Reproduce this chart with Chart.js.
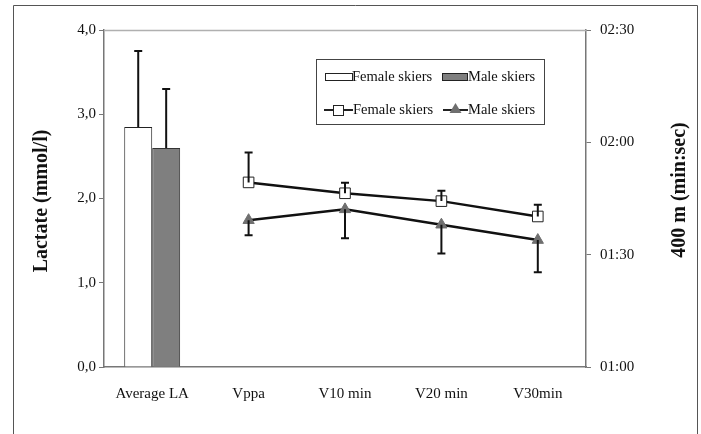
<!DOCTYPE html>
<html>
<head>
<meta charset="utf-8">
<script src="https://cdn.jsdelivr.net/npm/chart.js"></script>
<style>
  html, body { margin: 0; padding: 0; background: #fff; }
  #wrap { width: 701px; height: 434px; position: relative; }
</style>
</head>
<body>
<div id="wrap"><canvas id="chart" width="701" height="434"></canvas></div>
<script>
// ========== DATA ========== //
const categories = ['Average LA', 'Vppa', 'V10 min', 'V20 min', 'V30min'];

// bars: lactate (mmol/l), only on the first category
const femaleLactate = [2.85, null, null, null, null];
const femaleLactateSD = [0.90, null, null, null, null];
const maleLactate = [2.60, null, null, null, null];
const maleLactateSD = [0.70, null, null, null, null];

// lines: 400 m time in seconds
const femaleTime = [null, 109.3, 106.4, 104.3, 100.2];
const femaleTimeSD = [null, 8.0, 2.8, 2.8, 3.1];
const maleTime = [null, 99.2, 102.1, 98.0, 93.9];
const maleTimeSD = [null, 4.0, 7.7, 7.7, 8.6];

const lactateTicks = [0, 1, 2, 3, 4];
const timeTicks = [60, 90, 120, 150];

const FONT = "'Liberation Serif', 'Times New Roman', serif";

function mmss(sec) {
    const m = Math.floor(sec / 60);
    const s = Math.round(sec % 60);
    return String(m).padStart(2, '0') + ':' + String(s).padStart(2, '0');
}

// ========== ERROR BARS (through scales) ========== //
const errorBars = {
    id: 'errorBars',
    afterDatasetsDraw(chart) {
        const ctx = chart.ctx;
        chart.data.datasets.forEach((ds, i) => {
            if (!ds.errors) return;
            const meta = chart.getDatasetMeta(i);
            const scale = chart.scales[ds.yAxisID];
            ctx.save();
            ctx.strokeStyle = '#111';
            ctx.lineWidth = 2;
            meta.data.forEach((el, j) => {
                const v = ds.data[j];
                const e = ds.errors[j];
                if (v == null || e == null) return;
                const x = el.x;
                const y0 = scale.getPixelForValue(v);
                const y1 = scale.getPixelForValue(v + ds.errorDir * e);
                ctx.beginPath();
                ctx.moveTo(x, y0);
                ctx.lineTo(x, y1);
                ctx.moveTo(x - 4, y1);
                ctx.lineTo(x + 4, y1);
                ctx.stroke();
            });
            ctx.restore();
        });
    }
};

// ========== FRAME, TITLES, LEGEND ========== //
function verticalTitle(ctx, text, x, y) {
    ctx.save();
    ctx.fillStyle = '#111';
    ctx.font = 'bold 20px ' + FONT;
    ctx.textAlign = 'center';
    ctx.textBaseline = 'middle';
    ctx.translate(x, y);
    ctx.rotate(-Math.PI / 2);
    ctx.fillText(text, 0, 0);
    ctx.restore();
}

const decorations = {
    id: 'decorations',
    beforeDatasetsDraw(chart) {
        const ctx = chart.ctx;
        const a = chart.chartArea;
        ctx.save();
        ctx.strokeStyle = '#b0b0b0';
        ctx.lineWidth = 1.5;
        ctx.beginPath();
        ctx.moveTo(a.left, a.top + 0.5);
        ctx.lineTo(a.right, a.top + 0.5);
        ctx.stroke();
        ctx.restore();
    },
    afterDraw(chart) {
        const ctx = chart.ctx;
        ctx.save();
        // outer frame
        ctx.strokeStyle = '#555';
        ctx.lineWidth = 1;
        ctx.beginPath();
        ctx.moveTo(13.5, 440);
        ctx.lineTo(13.5, 5.5);
        ctx.lineTo(697.5, 5.5);
        ctx.lineTo(697.5, 440);
        ctx.stroke();
        ctx.restore();

        verticalTitle(ctx, 'Lactate (mmol/l)', 42, 201);
        verticalTitle(ctx, '400 m (min:sec)', 680, 190);

        // legend box
        ctx.save();
        ctx.fillStyle = '#fff';
        ctx.strokeStyle = '#444';
        ctx.lineWidth = 1;
        ctx.fillRect(316.5, 59.5, 228, 65);
        ctx.strokeRect(316.5, 59.5, 228, 65);
        ctx.font = '14.5px ' + FONT;
        ctx.textBaseline = 'middle';
        ctx.textAlign = 'left';

        // bar swatches
        ctx.fillStyle = '#fff';
        ctx.strokeStyle = '#222';
        ctx.fillRect(325.5, 73.5, 27, 7);
        ctx.strokeRect(325.5, 73.5, 27, 7);
        ctx.fillStyle = '#7f7f7f';
        ctx.fillRect(442.5, 73.5, 25, 7);
        ctx.strokeRect(442.5, 73.5, 25, 7);
        ctx.fillStyle = '#111';
        ctx.fillText('Female skiers', 352, 77);
        ctx.fillText('Male skiers', 468, 77);

        // line swatches
        ctx.lineWidth = 2;
        ctx.beginPath();
        ctx.moveTo(324, 110); ctx.lineTo(353, 110);
        ctx.moveTo(443, 110); ctx.lineTo(468, 110);
        ctx.stroke();
        ctx.fillStyle = '#fff';
        ctx.lineWidth = 1;
        ctx.fillRect(333.5, 105.5, 10, 10);
        ctx.strokeRect(333.5, 105.5, 10, 10);
        ctx.fillStyle = '#6f6f6f';
        ctx.beginPath();
        ctx.moveTo(455.5, 103);
        ctx.lineTo(461.5, 113);
        ctx.lineTo(449.5, 113);
        ctx.closePath();
        ctx.fill();
        ctx.fillStyle = '#111';
        ctx.fillText('Female skiers', 353, 110);
        ctx.fillText('Male skiers', 468, 110);
        ctx.restore();
    }
};

// ========== CHART ========== //
const ctx = document.getElementById('chart').getContext('2d');
new Chart(ctx, {
    data: {
        labels: categories,
        datasets: [
            {
                type: 'bar', label: 'Female skiers', data: femaleLactate,
                errors: femaleLactateSD, errorDir: 1, yAxisID: 'y',
                backgroundColor: '#ffffff', borderColor: '#222', borderWidth: 1,
                barPercentage: 1, categoryPercentage: 0.58, order: 2
            },
            {
                type: 'bar', label: 'Male skiers', data: maleLactate,
                errors: maleLactateSD, errorDir: 1, yAxisID: 'y',
                backgroundColor: '#7f7f7f', borderColor: '#333', borderWidth: 1,
                barPercentage: 1, categoryPercentage: 0.58, order: 2
            },
            {
                type: 'line', label: 'Female skiers', data: femaleTime,
                errors: femaleTimeSD, errorDir: 1, yAxisID: 'y2',
                borderColor: '#111', borderWidth: 2.5, tension: 0,
                pointStyle: 'rect', pointRadius: 7.5, pointBackgroundColor: '#fff',
                pointBorderColor: '#222', pointBorderWidth: 1, order: 0
            },
            {
                type: 'line', label: 'Male skiers', data: maleTime,
                errors: maleTimeSD, errorDir: -1, yAxisID: 'y2',
                borderColor: '#111', borderWidth: 2.5, tension: 0,
                pointStyle: 'triangle', pointRadius: 6.5, pointBackgroundColor: '#6f6f6f',
                pointBorderColor: '#6f6f6f', pointBorderWidth: 1, order: 0
            }
        ]
    },
    options: {
        responsive: false,
        animation: false,
        events: [],
        layout: { padding: { top: 30, bottom: 0, left: 0, right: 0 } },
        plugins: { legend: { display: false }, tooltip: { enabled: false } },
        scales: {
            x: {
                offset: true,
                grid: { display: false, drawTicks: false },
                border: { color: '#777', width: 1.5 },
                ticks: { color: '#111', font: { family: FONT, size: 15 }, padding: 18, maxRotation: 0 },
                afterFit(s) { s.height = 67; }
            },
            y: {
                position: 'left', min: 0, max: 4,
                afterBuildTicks(s) { s.ticks = lactateTicks.map(v => ({ value: v })); },
                grid: { drawOnChartArea: false, tickLength: 5, color: '#777' },
                border: { color: '#777', width: 1.5 },
                ticks: {
                    color: '#111', font: { family: FONT, size: 15 }, padding: 3,
                    callback: v => v.toFixed(1).replace('.', ',')
                },
                afterFit(s) { s.width = 104; }
            },
            y2: {
                position: 'right', min: 60, max: 150,
                afterBuildTicks(s) { s.ticks = timeTicks.map(v => ({ value: v })); },
                grid: { drawOnChartArea: false, tickLength: 5, color: '#777' },
                border: { color: '#777', width: 1.5 },
                ticks: { color: '#111', font: { family: FONT, size: 15 }, padding: 9, callback: v => mmss(v) },
                afterFit(s) { s.width = 115; }
            }
        }
    },
    plugins: [decorations, errorBars]
});
</script>
</body>
</html>
